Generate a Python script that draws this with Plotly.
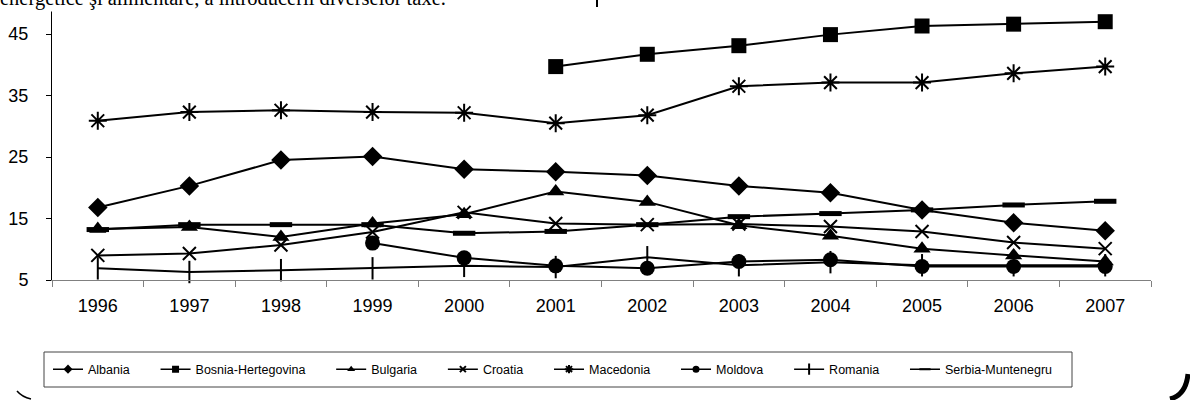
import plotly.graph_objects as go

years = ["1996", "1997", "1998", "1999", "2000", "2001",
         "2002", "2003", "2004", "2005", "2006", "2007"]

albania = [16.8, 20.3, 24.5, 25.1, 23.0, 22.6, 22.0, 20.3, 19.2, 16.4, 14.3, 13.0]
bosnia = [None, None, None, None, None, 39.7, 41.7, 43.1, 44.9, 46.3, 46.6, 47.0]
bulgaria = [13.3, 13.6, 12.0, 14.2, 15.7, 19.4, 17.7, 13.9, 12.2, 10.1, 9.0, 8.0]
croatia = [9.0, 9.3, 10.7, 12.8, 16.0, 14.2, 14.0, 14.1, 13.7, 12.9, 11.1, 10.1]
macedonia = [30.9, 32.3, 32.6, 32.3, 32.2, 30.5, 31.8, 36.5, 37.1, 37.1, 38.6, 39.7]
moldova = [None, None, None, 11.0, 8.6, 7.3, 6.9, 8.0, 8.3, 7.2, 7.2, 7.2]
romania = [6.9, 6.3, 6.6, 6.9, 7.3, 7.1, 8.7, 7.4, 7.9, 7.4, 7.4, 7.4]
serbia = [13.2, 14.0, 14.0, 14.0, 12.6, 12.9, 14.0, 15.3, 15.8, 16.4, 17.2, 17.8]

y_ticks = [5, 15, 25, 35, 45]

series = [
    ("Albania", albania, "diamond", 15, 0),
    ("Bosnia-Hertegovina", bosnia, "square", 15, 0),
    ("Bulgaria", bulgaria, "triangle-up", 15, 0),
    ("Croatia", croatia, "x-thin-open", 13, 2),
    ("Macedonia", macedonia, "asterisk-open", 15, 2),
    ("Moldova", moldova, "circle", 15, 0),
    ("Romania", romania, "line-ns-open", 16, 2),
    ("Serbia-Muntenegru", serbia, "line-ew-open", 16, 5),
]

W, H = 1190, 400
L, R, T, B = 52, 39, 0, 120
pw = W - L - R
ph = H - T - B
PAD = "\u00a0" * 6


def px_x(x):
    return (x - L) / pw


def px_y(y):
    return (H - B - y) / ph


fig = go.Figure()
for i, (name, vals, sym, size, lw) in enumerate(series):
    fig.add_trace(go.Scatter(
        x=years, y=vals, mode="lines+markers", name=name,
        line=dict(color="black", width=2),
        marker=dict(symbol=sym, size=size, color="black",
                    line=dict(color="black", width=lw)),
        showlegend=False, cliponaxis=False,
    ))
    # small legend markers like the original
    label = name + (PAD if i < len(series) - 1 else "")
    fig.add_trace(go.Scatter(
        x=[None], y=[None], mode="lines+markers", name=label,
        line=dict(color="black", width=1.5),
        marker=dict(symbol=sym, size=max(6, size // 2), color="black",
                    line=dict(color="black", width=min(lw, 2) if lw else 0)),
    ))

fig.update_layout(
    width=W, height=H,
    margin=dict(l=L, r=R, t=T, b=B, autoexpand=False),
    paper_bgcolor="white", plot_bgcolor="white",
    font=dict(family="Liberation Sans, Arial", color="black"),
    showlegend=True,
    legend=dict(
        orientation="h", x=px_x(48), y=px_y(369.5), xanchor="left", yanchor="middle",
        borderwidth=0, bgcolor="rgba(0,0,0,0)", font=dict(size=12.5),
        itemwidth=30, tracegroupgap=0,
    ),
    xaxis=dict(
        type="category", range=[-0.5, 11.5], showgrid=False, automargin=False,
        showline=True, linecolor="#808080", linewidth=1,
        ticks="outside", tickson="boundaries", ticklen=6, tickcolor="#808080",
        tickfont=dict(size=18), ticklabelstandoff=9,
    ),
    yaxis=dict(
        range=[5, 5 + ph / 6.15], tickvals=y_ticks, showgrid=False, zeroline=False,
        showline=True, linecolor="black", linewidth=1, automargin=False,
        ticks="outside", ticklen=5, tickcolor="black",
        tickfont=dict(size=18), ticklabelstandoff=14,
    ),
)

# legend frame
fig.add_shape(type="rect", xref="paper", yref="paper",
              x0=px_x(44), x1=px_x(1072), y0=px_y(352), y1=px_y(387),
              line=dict(color="#444", width=1), layer="below")

# text of the page cut off above the chart
fig.add_annotation(
    text="energetice şi alimentare, a introducerii diverselor taxe.",
    xref="paper", yref="paper", x=px_x(-2), y=px_y(12),
    xanchor="left", yanchor="bottom", showarrow=False,
    font=dict(family="Liberation Serif", size=20.5, color="black"),
    bgcolor="white",
)

# page marks: cursor stroke and rounded frame corners
fig.add_shape(type="line", xref="paper", yref="paper",
              x0=px_x(597), x1=px_x(597), y0=px_y(0), y1=px_y(7),
              line=dict(color="black", width=2))
fig.add_shape(type="path", xref="paper", yref="paper",
              path=f"M {px_x(17)},{px_y(391)} Q {px_x(22)},{px_y(397)} {px_x(31)},{px_y(399)}",
              line=dict(color="black", width=1.5))
fig.add_shape(type="path", xref="paper", yref="paper",
              path=f"M {px_x(1188)},{px_y(374)} Q {px_x(1186)},{px_y(395)} {px_x(1170)},{px_y(399)}",
              line=dict(color="black", width=5))

fig.write_html("out.html", config={"displayModeBar": False},
               post_script="document.body.style.margin = '0px';")
